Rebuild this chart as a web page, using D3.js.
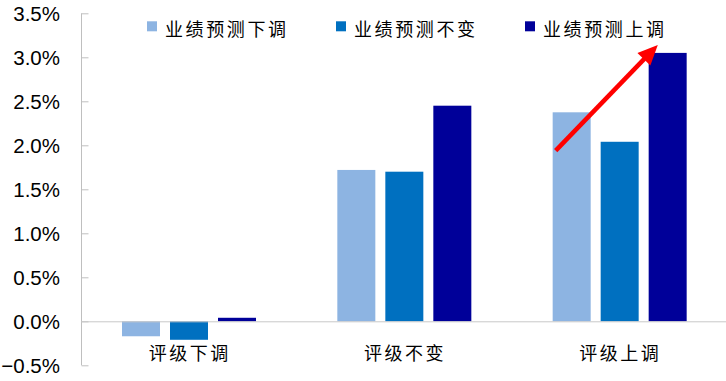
<!DOCTYPE html>
<html><head><meta charset="utf-8">
<script src="https://cdn.jsdelivr.net/npm/d3@7/dist/d3.min.js"></script>
<style>body{margin:0;background:#fff}svg{display:block}</style>
</head><body><svg id="c" width="726" height="381"></svg>
<script>
const categories = ["评级下调", "评级不变", "评级上调"];
const seriesNames = ["业绩预测下调", "业绩预测不变", "业绩预测上调"];
const seriesDown = [-0.17, 1.72, 2.375];
const seriesFlat = [-0.21, 1.70, 2.04];
const seriesUp = [0.04, 2.45, 3.05];
const yTicks = [-0.5, 0, 0.5, 1.0, 1.5, 2.0, 2.5, 3.0, 3.5];
const colors = ["#8db4e2", "#0070c0", "#000099"];
// arrow annotation in data terms: [category, series, fraction across bar, value]
const arrowFrom = ["评级上调", "业绩预测下调", 0.08, 1.94];
const arrowTo = ["评级上调", "业绩预测上调", 0.24, 3.14];

const seriesValues = [seriesDown, seriesFlat, seriesUp];
const svg = d3.select("#c");
const x = d3.scaleBand().domain(categories).range([81, 727]);
const xs = d3.scaleBand().domain(seriesNames).range([41, 175]).paddingInner(10/48);
const y = d3.scaleLinear().domain([-0.5, 3.5]).range([365.3, 13.3]);

// axis
const yAxis = d3.axisRight(y).tickValues(yTicks).tickSize(7).tickFormat("");
const ga = svg.append("g").attr("transform", "translate(81.5,0)").call(yAxis);
ga.selectAll("path,line").attr("stroke", "#bfbfbf");
ga.select("path").attr("d", `M0,${y(3.5)}V${y(-0.5)}`);

svg.append("g").selectAll("text").data(yTicks).join("text")
  .attr("x", 60).attr("y", d => y(d)).attr("dy", "0.36em")
  .attr("text-anchor", "end")
  .attr("font-family", "Liberation Sans, Arial, sans-serif").attr("font-size", 20.5)
  .attr("fill", "#000")
  .text(d => d3.format(".1f")(d) + "%");

// bars
const gBars = svg.append("g");
seriesNames.forEach((s, si) => {
  gBars.selectAll(null).data(categories).join("rect")
    .attr("x", c => x(c) + xs(s))
    .attr("width", xs.bandwidth())
    .attr("y", (c, i) => y(Math.max(0, seriesValues[si][i])))
    .attr("height", (c, i) => Math.abs(y(seriesValues[si][i]) - y(0)))
    .attr("fill", colors[si]);
});

// zero line
svg.append("line").attr("x1", 81).attr("x2", 726).attr("y1", y(0) + 0.5).attr("y2", y(0) + 0.5)
  .attr("stroke", "#c8c8c8").attr("stroke-width", 1);

// category labels
svg.append("g").selectAll("text").data(categories).join("text")
  .attr("x", c => x(c) + x.bandwidth() / 2 + 1)
  .attr("y", 352).attr("dominant-baseline", "central").attr("text-anchor", "middle")
  .attr("font-family", "Noto Sans CJK SC").attr("font-size", 18)
  .attr("letter-spacing", 2.5).attr("fill", "#000")
  .text(d => d);

// legend
const legX = [147, 336, 525];
const lg = svg.append("g").selectAll("g").data(seriesNames).join("g")
  .attr("transform", (d, i) => `translate(${legX[i]},0)`);
lg.append("rect").attr("x", 0).attr("y", 21.3).attr("width", 10).attr("height", 10)
  .attr("fill", (d, i) => colors[i]);
lg.append("text").attr("x", 18).attr("y", 28).attr("dominant-baseline", "central")
  .attr("font-family", "Noto Sans CJK SC").attr("font-size", 18).attr("letter-spacing", 2.6)
  .attr("fill", "#000").text(d => d);

// arrow
const ax1 = x(arrowFrom[0]) + xs(arrowFrom[1]) + arrowFrom[2] * xs.bandwidth();
const ay1 = y(arrowFrom[3]);
const ax2 = x(arrowTo[0]) + xs(arrowTo[1]) + arrowTo[2] * xs.bandwidth();
const ay2 = y(arrowTo[3]);
const ang = Math.atan2(ay2 - ay1, ax2 - ax1);
const headL = 20, headW = 9;
const bx = ax2 - headL * Math.cos(ang), by = ay2 - headL * Math.sin(ang);
svg.append("line").attr("x1", ax1).attr("y1", ay1).attr("x2", bx + 2 * Math.cos(ang)).attr("y2", by + 2 * Math.sin(ang))
  .attr("stroke", "#ff0000").attr("stroke-width", 4.5);
svg.append("path").attr("d", d3.line()([
  [ax2, ay2],
  [bx + headW * Math.sin(ang), by - headW * Math.cos(ang)],
  [bx - headW * Math.sin(ang), by + headW * Math.cos(ang)]
]) + "Z").attr("fill", "#ff0000");
</script></body></html>
